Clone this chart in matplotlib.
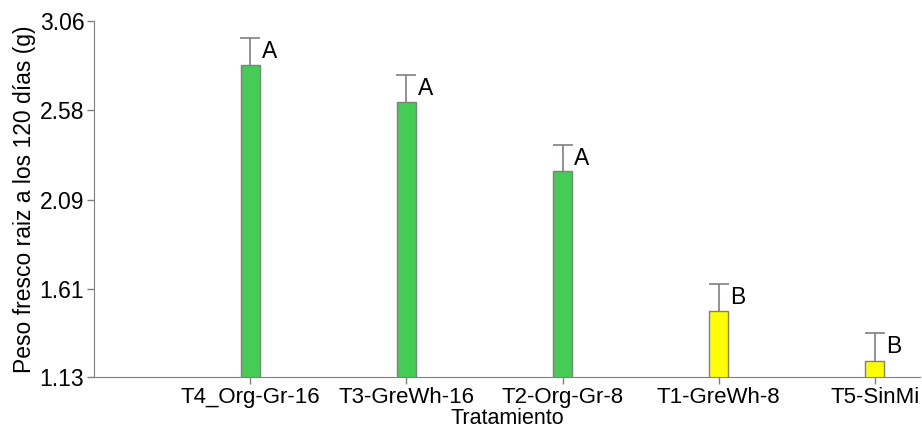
import matplotlib.pyplot as plt
import numpy as np

plt.rcParams['font.family'] = ['Liberation Sans', 'DejaVu Sans']

tratamientos = ['T4_Org-Gr-16', 'T3-GreWh-16', 'T2-Org-Gr-8', 'T1-GreWh-8', 'T5-SinMi']
peso = [2.82, 2.62, 2.245, 1.49, 1.22]
error = [0.15, 0.15, 0.145, 0.147, 0.15]
letras = ['A', 'A', 'A', 'B', 'B']
colores = ['#45CC55', '#45CC55', '#45CC55', '#FFFF00', '#FFFF00']
yticks = [1.13, 1.61, 2.09, 2.58, 3.06]

gris = '#7f7f7f'

fig = plt.figure(figsize=(9.22, 4.30), dpi=100)
ax = fig.add_axes([0.102, 0.123, 0.896, 0.828])

x = np.arange(len(tratamientos))
ax.bar(x, peso, width=0.12, color=colores, edgecolor=gris, linewidth=1.0, zorder=2)
eb = ax.errorbar(x, peso, yerr=[np.zeros(len(error)), error], fmt='none',
                 ecolor=gris, elinewidth=1.2, capsize=7, capthick=1.2, zorder=1)
# solo la tapa superior
eb[1][0].set_visible(False)

for xi, yi, e, l in zip(x, peso, error, letras):
    ax.text(xi + 0.075, yi + e * 0.5, l, fontsize=16.5, ha='left', va='center')

ax.set_xlim(-1.0, 4.29)
ax.set_ylim(1.13, 3.06)
ax.set_yticks(yticks)
ax.set_yticklabels(['%.2f' % v for v in yticks])
ax.set_xticks(x)
ax.set_xticklabels(tratamientos)

ax.spines['top'].set_visible(False)
ax.spines['right'].set_visible(False)
ax.spines['left'].set_color(gris)
ax.spines['bottom'].set_color(gris)
ax.tick_params(axis='both', colors=gris, labelcolor='black', length=5, width=1)
ax.tick_params(axis='y', pad=2, labelsize=16.5)
ax.tick_params(axis='x', pad=2, labelsize=16)

ax.set_ylabel('Peso fresco raiz a los 120 días (g)', fontsize=16.5, labelpad=3)
ax.set_xlabel('Tratamiento', fontsize=15.5, labelpad=0)

plt.savefig('out.png', dpi=100)
